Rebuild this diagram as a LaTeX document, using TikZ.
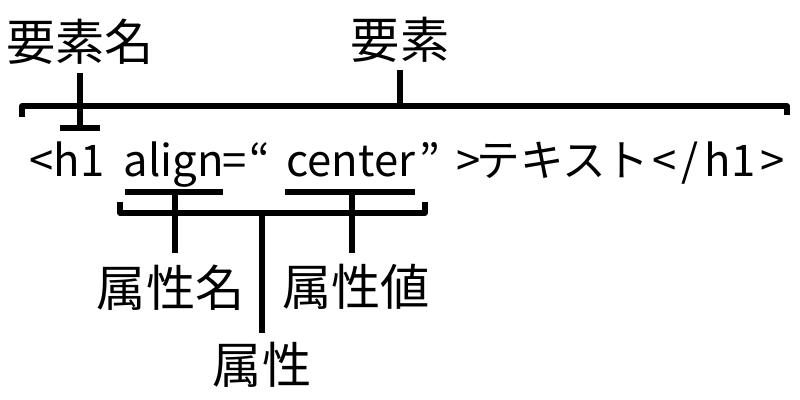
\documentclass[tikz,border=0pt]{standalone}
\usepackage{fontspec}
\setmainfont{Noto Sans CJK JP}
\usetikzlibrary{positioning}
\tikzset{
  lbl/.style={font=\fontsize{35}{40}\selectfont, inner sep=0pt},
  code/.style={font=\fontsize{31}{36}\selectfont, inner sep=0pt, anchor=base},
  brk/.style={line width=3.6pt, line join=round}
}
\begin{document}
\begin{tikzpicture}[x=0.025cm, y=-0.025cm]
  \useasboundingbox (0,0) rectangle (800,400);
  % the source line
  \node[code] (lt) at (42,177) {<};
  \node[code] (tag) at (79,177) {h1};
  \node[code] (key) at (174,177) {align};
  \node[code] (eq) at (235,177) {=};
  \node[code] (q1) at (260,177) {“};
  \node[code] (val) at (351,177) {center};
  \node[code] (q2) at (430,177) {”};
  \node[code] (gt) at (469,177) {>};
  \node[code] (txt) at (563,177) {テキスト};
  \node[code] (lt2) at (665,177) {<};
  \node[code] (sl) at (690,177) {/};
  \node[code] (tag2) at (730,177) {h1};
  \node[code] (gt2) at (773,177) {>};
  % element bracket
  \coordinate (elL) at (22,106);
  \coordinate (elR) at (787,106);
  \coordinate (elmid) at (400,106);
  \coordinate (eltop) at (400,70);
  \draw[brk] (22,117) -- (elL) -- (elR) -- (787,115);
  \draw[brk] (elmid) -- (eltop);
  \node[lbl, above=5pt of eltop] (elem) {要素};
  % element name
  \coordinate (tagbar) at (80,128);
  \coordinate (tagtop) at (80,73);
  \draw[brk] (tagtop) -- (tagbar);
  \draw[brk] (60,128) -- (100,128);
  \node[lbl, above=6pt of tagtop] (elname) {要素名};
  % attribute name and value
  \draw[brk] (125,192) -- (223,192);
  \draw[brk] (285,192) -- (415,192);
  \coordinate (keybar) at (175,192);
  \coordinate (keyend) at (175,253);
  \coordinate (valbar) at (352,192);
  \coordinate (valend) at (352,253);
  \draw[brk] (keybar) -- (keyend);
  \draw[brk] (valbar) -- (valend);
  \node[lbl, below=8pt of keyend, xshift=-3pt] (atname) {属性名};
  \node[lbl, below=8pt of valend, xshift=3pt] (atval) {属性値};
  % attribute bracket
  \coordinate (atmid) at (262,213);
  \coordinate (atend) at (262,333);
  \draw[brk] (120,202) -- (120,213) -- (425,213) -- (425,202);
  \draw[brk] (atmid) -- (atend);
  \node[lbl, below=6pt of atend] (attr) {属性};
\end{tikzpicture}
\end{document}
